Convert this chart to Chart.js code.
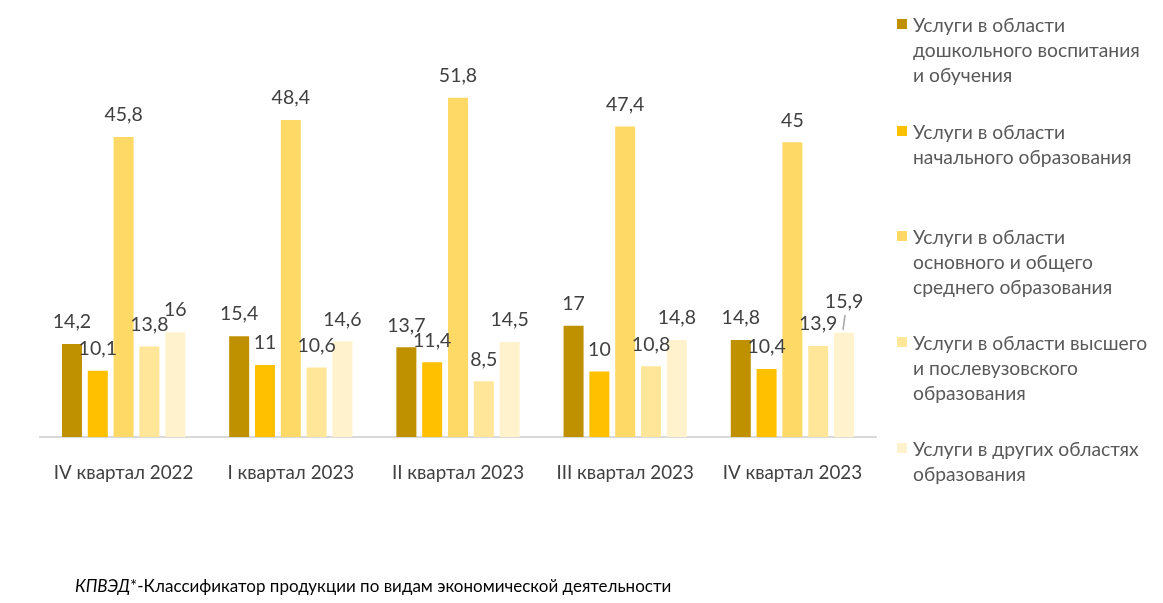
<!DOCTYPE html>
<html>
<head>
<meta charset="utf-8">
<script src="https://cdn.jsdelivr.net/npm/chart.js@4.4.0/dist/chart.umd.min.js"></script>
<style>
    html, body { margin: 0; padding: 0; background: #fff; }
    #wrap { position: relative; width: 1163px; height: 603px; }
    #chart { position: absolute; left: 0; top: 0; }
    #legend { position: absolute; left: 897px; top: 12px; width: 266px; font-family: Lato, sans-serif; font-size: 19.3px; color: #595959; }
    .item { position: absolute; left: 0; }
    .box { position: absolute; left: 0; top: 7px; width: 10px; height: 10px; }
    .txt { position: absolute; left: 16px; top: 0; line-height: 25px; white-space: nowrap; }
    #note { position: absolute; left: 75px; top: 575px; font-family: Lato, sans-serif; font-size: 17px; color: #000; }
</style>
</head>
<body>
<div id="wrap">
    <canvas id="chart" width="1163" height="603"></canvas>
    <div id="legend"></div>
    <div id="note"><i>КПВЭД</i>*-Классификатор продукции по видам экономической деятельности</div>
</div>
<script>
// кварталы
const quarters = ['IV квартал 2022', 'I квартал 2023', 'II квартал 2023', 'III квартал 2023', 'IV квартал 2023'];

// значения по видам услуг
const preschool = [14.2, 15.4, 13.7, 17, 14.8];
const primary = [10.1, 11, 11.4, 10, 10.4];
const secondary = [45.8, 48.4, 51.8, 47.4, 45];
const higher = [13.8, 10.6, 8.5, 10.8, 13.9];
const other = [16, 14.6, 14.5, 14.8, 15.9];

const seriesNames = [
    ['Услуги в области', 'дошкольного воспитания', 'и обучения'],
    ['Услуги в области', 'начального образования'],
    ['Услуги в области', 'основного и общего', 'среднего образования'],
    ['Услуги в области высшего', 'и послевузовского', 'образования'],
    ['Услуги в других областях', 'образования']
];
const seriesColors = ['#BF9000', '#FFC000', '#FFD966', '#FFE699', '#FFF2CC'];
const legendTops = [0, 107, 212, 318, 424];

const allSeries = [preschool, primary, secondary, higher, other];

const fmt = (v) => String(v).replace('.', ',');

// подписи значений над столбцами
const valueLabels = {
    id: 'valueLabels',
    afterDatasetsDraw(chart) {
        const ctx = chart.ctx;
        ctx.save();
        ctx.font = '19.5px Lato, sans-serif';
        ctx.fillStyle = '#404040';
        ctx.textAlign = 'center';
        ctx.textBaseline = 'middle';
        chart.data.datasets.forEach((ds, di) => {
            const meta = chart.getDatasetMeta(di);
            meta.data.forEach((bar, i) => {
                let y = bar.y - 22;
                // последняя подпись сдвинута вверх с выноской
                if (di === 4 && i === 4) {
                    y = bar.y - 31;
                    ctx.strokeStyle = '#A6A6A6';
                    ctx.lineWidth = 1.5;
                    ctx.beginPath();
                    ctx.moveTo(bar.x + 1, y + 13);
                    ctx.lineTo(bar.x - 1, bar.y - 3);
                    ctx.stroke();
                }
                ctx.fillText(fmt(ds.data[i]), bar.x, y);
            });
        });
        ctx.restore();
    }
};

new Chart(document.getElementById('chart'), {
    type: 'bar',
    data: {
        labels: quarters,
        datasets: allSeries.map((values, i) => ({
            label: seriesNames[i].join(' '),
            data: values,
            backgroundColor: seriesColors[i],
            categoryPercentage: 0.772,
            barPercentage: 0.775
        }))
    },
    options: {
        responsive: false,
        animation: false,
        layout: { padding: { left: 40, right: 287, top: 44, bottom: 0 } },
        plugins: {
            legend: { display: false },
            tooltip: { enabled: false }
        },
        scales: {
            x: {
                grid: { display: false },
                border: { color: '#D9D9D9', width: 2 },
                ticks: { color: '#404040', font: { family: 'Lato, sans-serif', size: 18.8 }, padding: 17 },
                afterFit: (scale) => { scale.height = 166; }
            },
            y: {
                display: false,
                min: 0,
                max: 60
            }
        }
    },
    plugins: [valueLabels]
});

// легенда справа
const legendEl = document.getElementById('legend');
seriesNames.forEach((lines, i) => {
    const item = document.createElement('div');
    item.className = 'item';
    item.style.top = legendTops[i] + 'px';
    item.innerHTML = '<div class="box" style="background:' + seriesColors[i] + '"></div>' +
        '<div class="txt">' + lines.join('<br>') + '</div>';
    legendEl.appendChild(item);
});
</script>
</body>
</html>
